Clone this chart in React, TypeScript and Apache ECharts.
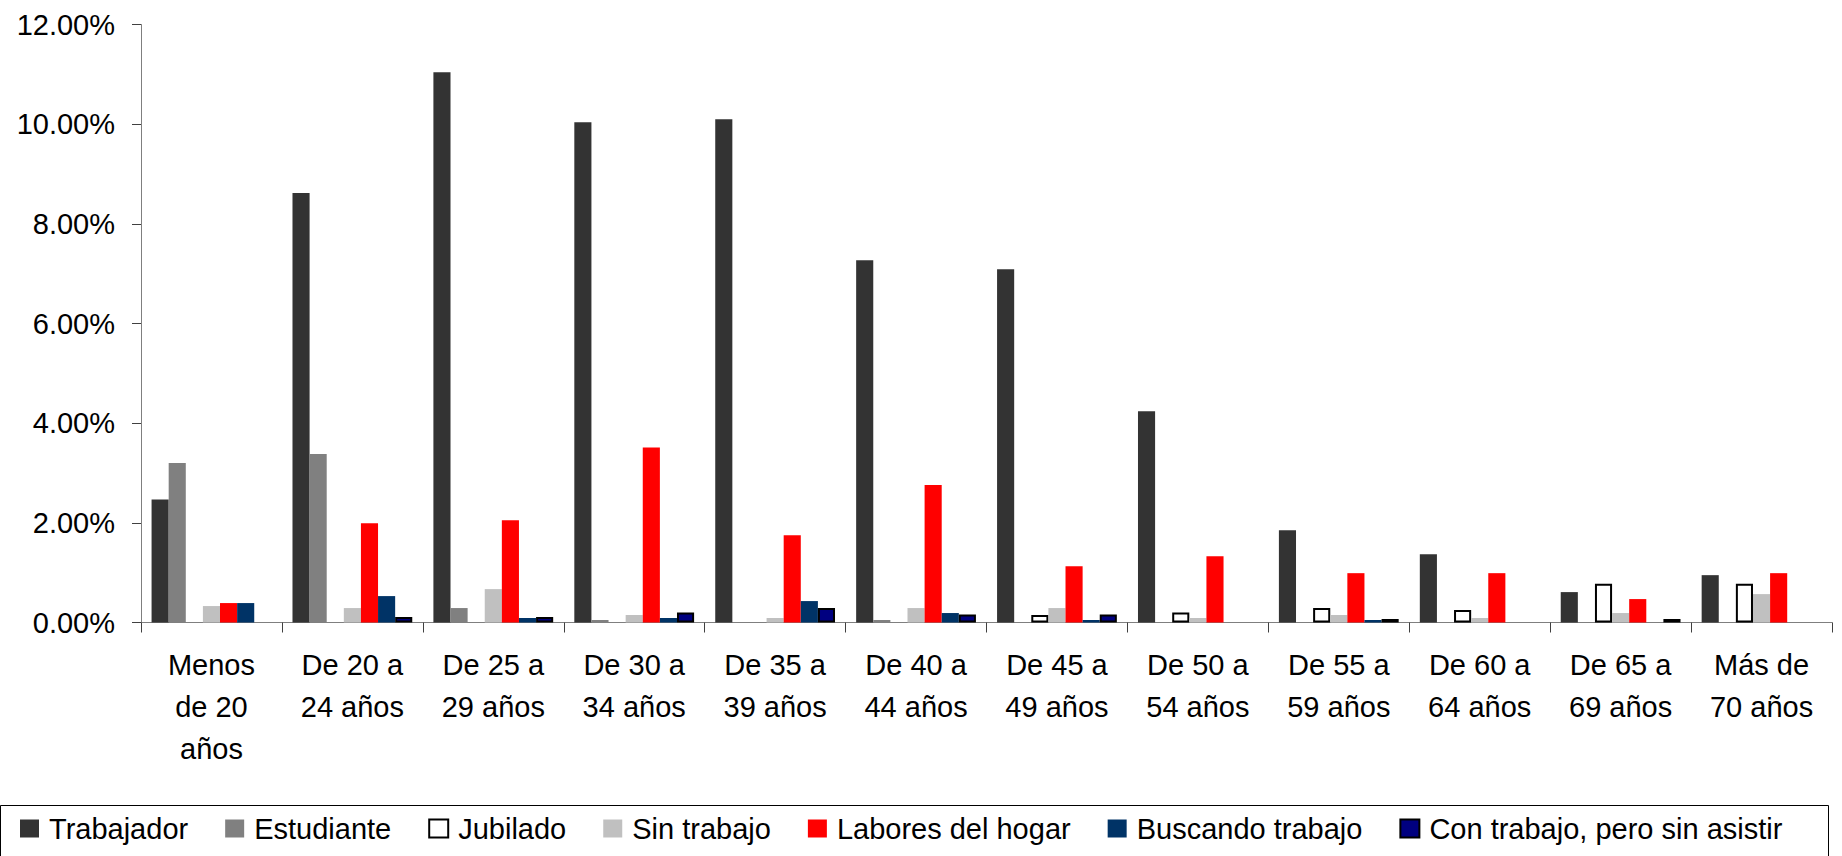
import React, { useEffect, useRef } from "react";
import * as echarts from "echarts";

const categories = [
  "Menos\nde 20\naños",
  "De 20 a\n24 años",
  "De 25 a\n29 años",
  "De 30 a\n34 años",
  "De 35 a\n39 años",
  "De 40 a\n44 años",
  "De 45 a\n49 años",
  "De 50 a\n54 años",
  "De 55 a\n59 años",
  "De 60 a\n64 años",
  "De 65 a\n69 años",
  "Más de\n70 años",
];

const trabajador = [2.47, 8.62, 11.04, 10.04, 10.1, 7.27, 7.09, 4.24, 1.85, 1.37, 0.61, 0.95];
const estudiante = [3.2, 3.38, 0.29, 0.05, 0, 0.05, 0, 0, 0, 0, 0, 0];
const jubilado = [0, 0, 0, 0, 0, 0, 0.15, 0.2, 0.29, 0.25, 0.78, 0.78];
const sinTrabajo = [0.33, 0.29, 0.67, 0.15, 0.09, 0.29, 0.29, 0.09, 0.15, 0.09, 0.19, 0.57];
const laboresHogar = [0.39, 1.99, 2.05, 3.51, 1.75, 2.76, 1.13, 1.33, 0.99, 0.99, 0.47, 0.99];
const buscandoTrabajo = [0.39, 0.53, 0.09, 0.09, 0.43, 0.19, 0.05, 0, 0.05, 0, 0, 0];
const conTrabajoSinAsistir = [0, 0.11, 0.11, 0.2, 0.29, 0.16, 0.16, 0, 0.07, 0, 0.07, 0];

const yTicks = [0, 2, 4, 6, 8, 10, 12];

const FONT = "'Liberation Sans', Arial, sans-serif";

export default function App() {
  const ref = useRef<HTMLDivElement>(null);

  useEffect(() => {
    document.body.style.margin = "0";
    if (!ref.current) return;
    const chart = echarts.init(ref.current, undefined, { renderer: "svg" });

    const nz = (arr: number[]) => arr.map((v) => (v === 0 ? null : v));

    const mk = (name: string, data: number[], color: string, border?: boolean) => ({
      name,
      type: "bar",
      data: nz(data),
      barGap: "0%",
      barCategoryGap: "15%",
      itemStyle: border
        ? { color, borderColor: "#000000", borderWidth: 2 }
        : { color },
    });

    chart.setOption({
      animation: false,
      backgroundColor: "#ffffff",
      textStyle: { fontFamily: FONT },
      grid: { left: 141, right: 10, top: 24.5, bottom: 233.5, containLabel: false },
      legend: {
        left: 15,
        top: 809,
        itemWidth: 19,
        itemHeight: 18,
        itemGap: 37,
        icon: "rect",
        textStyle: { fontFamily: FONT, fontSize: 29, color: "#000", padding: [0, 0, 0, 5] },
        data: [
          "Trabajador",
          "Estudiante",
          "Jubilado",
          "Sin trabajo",
          "Labores del hogar",
          "Buscando trabajo",
          "Con trabajo, pero sin asistir",
        ],
      },
      graphic: [
        {
          type: "rect",
          shape: { x: 0.5, y: 805.5, width: 1828, height: 70 },
          style: { fill: "none", stroke: "#000000", lineWidth: 1 },
          silent: true,
        },
      ],
      xAxis: {
        type: "category",
        data: categories,
        axisLine: { show: true, lineStyle: { color: "#7f7f7f", width: 1 } },
        axisTick: { show: true, length: 10, lineStyle: { color: "#404040" } },
        axisLabel: {
          interval: 0,
          fontFamily: FONT,
          fontSize: 29,
          lineHeight: 42,
          color: "#000",
          margin: 21,
        },
        splitLine: { show: false },
      },
      yAxis: {
        type: "value",
        min: yTicks[0],
        max: yTicks[yTicks.length - 1],
        interval: 2,
        axisLine: { show: true, lineStyle: { color: "#7f7f7f", width: 1 } },
        axisTick: { show: true, length: 9, lineStyle: { color: "#404040" } },
        axisLabel: {
          fontFamily: FONT,
          fontSize: 29,
          color: "#000",
          margin: 26,
          formatter: (v: number) => v.toFixed(2) + "%",
        },
        splitLine: { show: false },
      },
      series: [
        mk("Trabajador", trabajador, "#333333"),
        mk("Estudiante", estudiante, "#808080"),
        mk("Jubilado", jubilado, "#ffffff", true),
        mk("Sin trabajo", sinTrabajo, "#c0c0c0"),
        mk("Labores del hogar", laboresHogar, "#ff0000"),
        mk("Buscando trabajo", buscandoTrabajo, "#003366"),
        mk("Con trabajo, pero sin asistir", conTrabajoSinAsistir, "#000080", true),
      ],
    });

    return () => chart.dispose();
  }, []);

  return <div ref={ref} style={{ width: 1842, height: 856 }} />;
}
